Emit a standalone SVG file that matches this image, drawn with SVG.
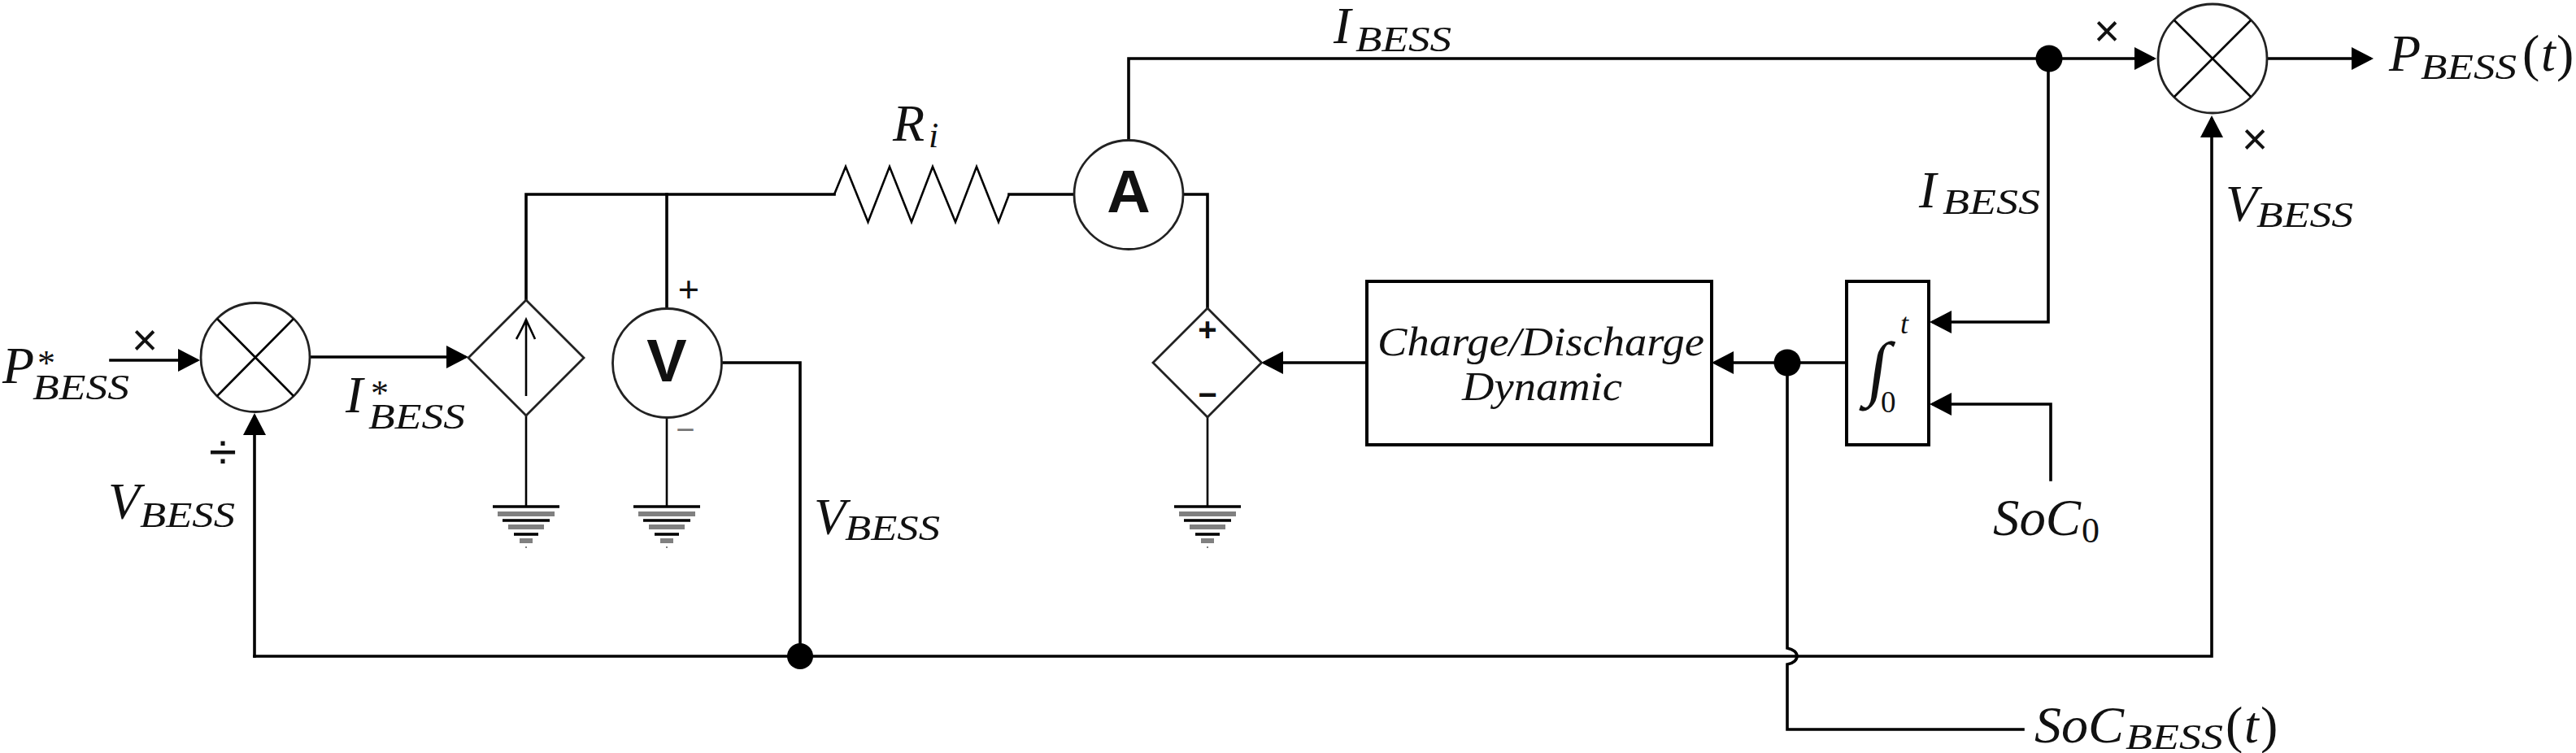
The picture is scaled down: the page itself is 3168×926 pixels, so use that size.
<svg xmlns="http://www.w3.org/2000/svg" width="3168" height="926" viewBox="0 0 3168 926">
<style>
.w{fill:none;stroke:#000;stroke-width:3.6;stroke-linecap:square;stroke-linejoin:miter}
.t{fill:none;stroke:#000;stroke-width:2.6}
.b{fill:#fff;stroke:#000;stroke-width:4}
.c{fill:#fff;stroke:#222;stroke-width:2.8}
.d{fill:#000}
text{font-family:"Liberation Serif",serif;fill:#111}
.m{font-style:italic;font-size:64px}
.s{font-style:italic;font-size:44px}
.u{font-size:64px}
.n{font-style:italic;font-size:50px}
.g{font-family:"Liberation Sans",sans-serif;font-weight:bold;font-size:74px;text-anchor:middle}
.o{font-family:"Liberation Sans",sans-serif;text-anchor:middle}
</style>
<defs>
<marker id="ah" markerUnits="userSpaceOnUse" markerWidth="28" markerHeight="28" refX="22" refY="14" orient="auto"><path d="M0 0L27 14L0 28Z" fill="#000"/></marker>
<symbol id="gnd" overflow="visible">
<path d="M-41 0H41" stroke="#000" stroke-width="3.6"/>
<path d="M-35 9H35" stroke="#808080" stroke-width="6"/>
<path d="M-29 17H29" stroke="#000" stroke-width="3.6"/>
<path d="M-22 25H22" stroke="#808080" stroke-width="6"/>
<path d="M-15 34H15" stroke="#000" stroke-width="3.6"/>
<path d="M-8 42H8" stroke="#808080" stroke-width="6"/>
<path d="M-1 50H1" stroke="#808080" stroke-width="2"/>
</symbol>
</defs>
<rect width="3168" height="926" fill="#fff"/>
<g id="connectors">
<path class="w" d="M136 443H241" marker-end="url(#ah)"/>
<path class="w" d="M381 439H571" marker-end="url(#ah)"/>
<path class="w" d="M647 369V239H1026"/>
<path class="w" d="M820 239V379"/>
<path class="t" d="M1026 239L1040 205L1067.500 273L1094 205L1121 273L1147 205L1175 273L1201 205L1228 273L1241 239"/>
<path class="w" d="M1241 239H1321"/>
<path class="w" d="M1388 172V72H2647" marker-end="url(#ah)"/>
<path class="w" d="M1455 239H1485V379"/>
<path class="t" d="M647 511V623M820 514V623M1485 513V623"/>
<path class="w" d="M888 446H984V807"/>
<path class="w" d="M1681 446H1556" marker-end="url(#ah)"/>
<path class="w" d="M2271 446H2110" marker-end="url(#ah)"/>
<path class="w" d="M2519 72V396H2378" marker-end="url(#ah)"/>
<path class="w" d="M2522 590V497H2378" marker-end="url(#ah)"/>
<path class="w" d="M2788 72H2914" marker-end="url(#ah)"/>
<path class="w" d="M313 807H2720V147" marker-end="url(#ah)"/>
<path class="w" d="M313 807V513" marker-end="url(#ah)"/>
<path class="w" d="M2198 446V797C2214 800 2214 814 2198 817V897H2488"/>
<circle class="d" cx="984" cy="807" r="16"/>
<circle class="d" cx="2198" cy="446" r="16.500"/>
<circle class="d" cx="2520" cy="72" r="16.500"/>
</g>
<g id="mult-in">
<circle class="c" cx="314" cy="439.500" r="67"/>
<path class="t" d="M267 392L361 487M361 392L267 487"/>
<text class="o" x="178" y="437" font-size="55">×</text>
<text class="o" x="274" y="577" font-size="62">÷</text>
</g>
<g id="current-source">
<path class="c" d="M647 369L718 440L647 511L576 440Z"/>
<path class="t" d="M647 487V393M635 417C640 408 644 400 647 393C650 400 654 408 658 417"/>
</g>
<g id="voltmeter">
<circle class="c" cx="820.500" cy="446.500" r="67"/>
<text class="g" x="820" y="469">V</text>
<text class="o" x="847" y="371" font-size="45">+</text>
<text class="o" x="843" y="542" font-size="40" style="fill:#777">−</text>
</g>
<g id="ammeter">
<circle class="c" cx="1388" cy="239.500" r="67"/>
<text class="g" x="1388" y="261">A</text>
</g>
<g id="voltage-source">
<path class="c" d="M1485 379L1551.500 446L1485 513L1418 446Z"/>
<text class="o" x="1485" y="419" font-size="40" style="font-weight:bold">+</text>
<text class="o" x="1485" y="499" font-size="40" style="font-weight:bold">−</text>
</g>
<g id="gnd1"><use href="#gnd" x="647" y="623"/></g>
<g id="gnd2"><use href="#gnd" x="820" y="623"/></g>
<g id="gnd3"><use href="#gnd" x="1485" y="623"/></g>
<g id="charge-dynamic">
<rect class="b" x="1681" y="346" width="424" height="201"/>
<text class="n" x="1694" y="437" textLength="402" lengthAdjust="spacingAndGlyphs">Charge/Discharge</text>
<text class="n" x="1798" y="492" textLength="197" lengthAdjust="spacingAndGlyphs">Dynamic</text>
</g>
<g id="integrator">
<rect class="b" x="2271" y="346" width="101" height="201"/>
<text font-size="88" transform="translate(2294 482) skewX(-8)">∫</text>
<text x="2337" y="410" font-size="36" font-style="italic">t</text>
<text x="2313" y="507" font-size="37">0</text>
</g>
<g id="mult-out">
<circle class="c" cx="2721" cy="72" r="67"/>
<path class="t" d="M2674 25L2768 119M2768 25L2674 119"/>
<text class="o" x="2591" y="57" font-size="55">×</text>
<text class="o" x="2773" y="190" font-size="55">×</text>
</g>
<g id="labels">
<text class="m" x="3" y="471">P</text><text x="46" y="461" font-size="44">*</text><text class="s" x="40" y="491" textLength="119" lengthAdjust="spacingAndGlyphs">BESS</text>
<text class="m" x="425" y="507">I</text><text x="456" y="498" font-size="44">*</text><text class="s" x="453" y="527" textLength="119" lengthAdjust="spacingAndGlyphs">BESS</text>
<text class="m" x="133" y="638">V</text><text class="s" x="172" y="648" textLength="117" lengthAdjust="spacingAndGlyphs">BESS</text>
<text class="m" x="1001" y="657">V</text><text class="s" x="1039" y="664" textLength="117" lengthAdjust="spacingAndGlyphs">BESS</text>
<text class="m" x="1098" y="173">R</text><text class="s" x="1142" y="181" font-size="40">i</text>
<text class="m" x="1640" y="53">I</text><text class="s" x="1667" y="63" textLength="118" lengthAdjust="spacingAndGlyphs">BESS</text>
<text class="m" x="2360" y="255">I</text><text class="s" x="2389" y="263" textLength="120" lengthAdjust="spacingAndGlyphs">BESS</text>
<text class="m" x="2737" y="272">V</text><text class="s" x="2775" y="279" textLength="119" lengthAdjust="spacingAndGlyphs">BESS</text>
<text class="m" x="2451" y="658" textLength="108" lengthAdjust="spacingAndGlyphs">SoC</text><text x="2560" y="667" font-size="44">0</text>
<text class="m" x="2938" y="87">P</text><text class="s" x="2977" y="97" textLength="118" lengthAdjust="spacingAndGlyphs">BESS</text><text class="u" x="3102" y="87">(</text><text class="m" x="3125" y="87">t</text><text class="u" x="3144" y="87">)</text>
<text class="m" x="2502" y="913" textLength="110" lengthAdjust="spacingAndGlyphs">SoC</text><text class="s" x="2614" y="921" textLength="120" lengthAdjust="spacingAndGlyphs">BESS</text><text class="u" x="2737" y="913">(</text><text class="m" x="2760" y="913">t</text><text class="u" x="2780" y="913">)</text>
</g>
</svg>
